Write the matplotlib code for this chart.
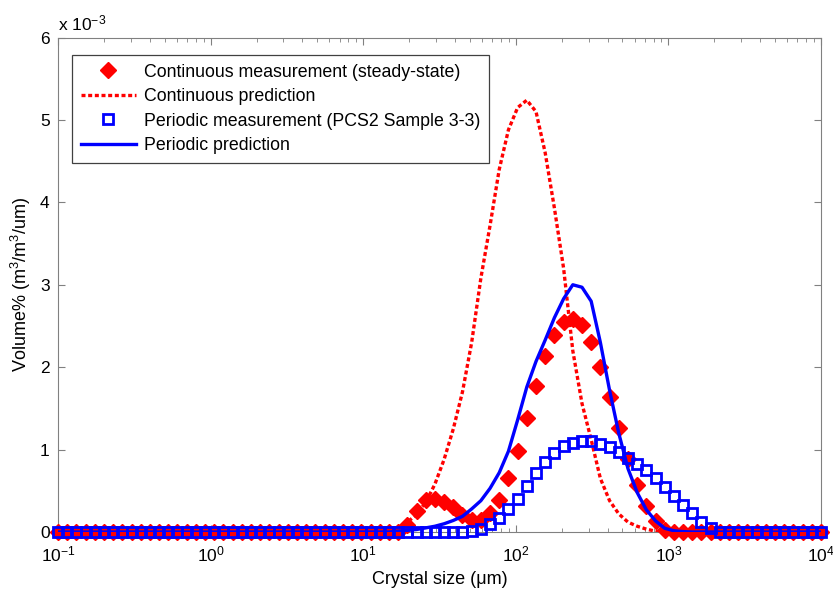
#!/usr/bin/env python3
import matplotlib

matplotlib.use("Agg")
import matplotlib.pyplot as plt
import numpy as np

# size classes: geometric grid, 0.1 .. 10^4 um (84 bins)
SIZE_UM = np.logspace(-1, 4, 84)

# values in units of 1e-3 (m^3/m^3/um)
CONT_MEAS = [0.0] * 38 + [
    0.08, 0.25, 0.39, 0.40, 0.37, 0.30, 0.21, 0.15, 0.15, 0.23,
    0.39, 0.65, 0.98, 1.38, 1.77, 2.13, 2.39, 2.55, 2.59, 2.51,
    2.30, 2.00, 1.64, 1.26, 0.88, 0.57, 0.31, 0.13, 0.03,
] + [0.0] * 17

CONT_PRED = [0.0] * 36 + [
    0.02, 0.045, 0.12, 0.21, 0.36, 0.58, 0.88, 1.25, 1.70, 2.30,
    3.08, 3.72, 4.40, 4.88, 5.15, 5.24, 5.10, 4.60, 3.93, 3.20,
    2.20, 1.56, 1.12, 0.65, 0.38, 0.22, 0.12, 0.07, 0.035, 0.01,
] + [0.0] * 18

PER_MEAS = [0.0] * 45 + [
    0.01, 0.04, 0.10, 0.17, 0.28, 0.40, 0.56, 0.71, 0.85, 0.96,
    1.04, 1.08, 1.10, 1.10, 1.07, 1.03, 0.97, 0.90, 0.83, 0.75,
    0.65, 0.55, 0.44, 0.33, 0.23, 0.125, 0.045,
] + [0.0] * 12

PER_PRED = [0.0] * 37 + [
    0.01, 0.02, 0.03, 0.05, 0.07, 0.10, 0.14, 0.19, 0.28, 0.38,
    0.53, 0.72, 0.98, 1.36, 1.76, 2.07, 2.33, 2.60, 2.83, 3.00,
    2.97, 2.80, 2.30, 1.72, 1.20, 0.77, 0.48, 0.27, 0.135, 0.045,
    0.015, 0.005,
] + [0.0] * 15

LABELS = [
    "Continuous measurement (steady-state)",
    "Continuous prediction",
    "Periodic measurement (PCS2 Sample 3-3)",
    "Periodic prediction",
]
X_TICKS = [1e-1, 1e0, 1e1, 1e2, 1e3, 1e4]
X_TICKLABELS = [r"10$^{-1}$", r"10$^{0}$", r"10$^{1}$", r"10$^{2}$", r"10$^{3}$", r"10$^{4}$"]
Y_TICKS = [0, 1, 2, 3, 4, 5, 6]

plt.rcParams.update(
    {
        "font.family": ["Liberation Sans", "DejaVu Sans"],
        "font.size": 11,
        "mathtext.fontset": "custom",
        "mathtext.rm": "Liberation Sans",
        "mathtext.it": "Liberation Sans:italic",
        "mathtext.bf": "Liberation Sans:bold",
        "axes.edgecolor": "#808080",
        "xtick.color": "#808080",
        "ytick.color": "#808080",
        "xtick.labelcolor": "black",
        "ytick.labelcolor": "black",
    }
)

fig = plt.figure(figsize=(8.33, 5.90), dpi=100)
ax = fig.add_axes([0.0696, 0.0983, 0.9160, 0.8381])

ax.plot(SIZE_UM, CONT_MEAS, linestyle="none", marker="D", ms=8,
        color="#FF0000", mec="#FF0000", label=LABELS[0], clip_on=False, zorder=3)
ax.plot(SIZE_UM, CONT_PRED, linestyle=(0, (1.2, 0.8)), lw=2.4,
        color="#FF0000", label=LABELS[1], zorder=3)
ax.plot(SIZE_UM, PER_MEAS, linestyle="none", marker="s", ms=7,
        mfc="none", mec="#0000FF", mew=2.0, label=LABELS[2], clip_on=False, zorder=3)
ax.plot(SIZE_UM, PER_PRED, linestyle="-", lw=2.4, color="#0000FF",
        label=LABELS[3], zorder=3)

ax.set_xscale("log")
ax.set_xlim(1e-1, 1e4)
ax.set_ylim(0, 6)
ax.set_xticks(X_TICKS)
ax.set_xticklabels(X_TICKLABELS)
ax.set_yticks(Y_TICKS)
ax.set_yticklabels([str(t) for t in Y_TICKS])
ax.tick_params(which="both", direction="in", top=True, right=True)
ax.tick_params(which="major", length=5, labelsize=12.5)
ax.tick_params(which="minor", length=3)
ax.tick_params(axis="x", pad=9)
ax.tick_params(axis="y", pad=6)

ax.set_xlabel("Crystal size (\u03bcm)", fontsize=13, labelpad=5)
ax.set_ylabel(r"Volume% (m$^3$/m$^3$/um)", fontsize=13, labelpad=5)
ax.text(0.0, 1.008, r"x 10$^{-3}$", transform=ax.transAxes, ha="left",
        va="bottom", fontsize=12.5)

leg = ax.legend(loc="upper left", bbox_to_anchor=(0.018, 0.965), borderaxespad=0,
                fancybox=False, framealpha=1, edgecolor="#404040",
                handlelength=3.1, handletextpad=0.45, fontsize=12.8,
                labelspacing=0.42, numpoints=1, borderpad=0.5)
leg.get_frame().set_linewidth(0.9)

fig.savefig("out.png", dpi=100)
plt.close(fig)
